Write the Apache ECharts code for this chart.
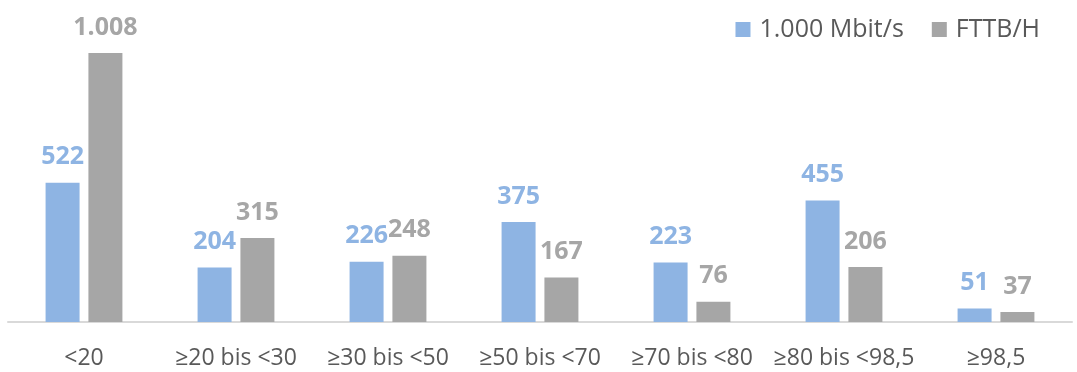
<!DOCTYPE html>
<html>
<head>
<meta charset="utf-8">
<script src="https://cdn.jsdelivr.net/npm/echarts@6/dist/echarts.min.js"></script>
<style>
  html, body { margin: 0; padding: 0; background: #ffffff; }
  #chart { width: 1077px; height: 372px; }
</style>
</head>
<body>
<div id="chart"></div>
<script>
// Bandbreiten-Klassen (x-Achse)
const categories = ['<20', '≥20 bis <30', '≥30 bis <50', '≥50 bis <70', '≥70 bis <80', '≥80 bis <98,5', '≥98,5'];
// Anzahl je Klasse
const gigabitValues = [522, 204, 226, 375, 223, 455, 51];
const fttbhValues = [1008, 315, 248, 167, 76, 206, 37];
const seriesNames = ['1.000 Mbit/s', 'FTTB/H'];

const BLUE = '#8EB4E3';
const GRAY = '#A6A6A6';
const FONT = '"Open Sans", "Noto Sans", sans-serif';

// German thousands separator
function fmt(v) {
  return String(v).replace(/\B(?=(\d{3})+(?!\d))/g, '.');
}

function barSeries(name, data, color) {
  return {
    name: name,
    type: 'bar',
    data: data,
    barWidth: 34,
    barGap: '26%',
    itemStyle: { color: color },
    label: {
      show: true,
      position: 'top',
      distance: 13,
      color: color,
      fontFamily: FONT,
      fontWeight: 'bold',
      fontSize: 25,
      formatter: p => fmt(p.value)
    }
  };
}

const chart = echarts.init(document.getElementById('chart'), null, { renderer: 'canvas' });
chart.setOption({
  animation: false,
  backgroundColor: '#ffffff',
  grid: { left: 8, right: 5, top: 28.4, bottom: 50, containLabel: false },
  legend: {
    top: 12,
    right: 32,
    itemWidth: 15,
    itemHeight: 15,
    itemGap: 28,
    icon: 'rect',
    textStyle: { color: '#595959', fontFamily: FONT, fontSize: 25, padding: [0, 0, 0, 4] },
    data: seriesNames
  },
  xAxis: {
    type: 'category',
    data: categories,
    axisLine: { lineStyle: { color: '#D9D9D9', width: 2 } },
    axisTick: { show: false },
    axisLabel: {
      color: '#595959',
      fontFamily: FONT,
      fontSize: 23,
      margin: 25,
      interval: 0
    }
  },
  yAxis: {
    type: 'value',
    min: 0,
    max: 1100,
    show: false,
    splitLine: { show: false }
  },
  series: [
    barSeries(seriesNames[0], gigabitValues, BLUE),
    barSeries(seriesNames[1], fttbhValues, GRAY)
  ]
});
</script>
</body>
</html>
